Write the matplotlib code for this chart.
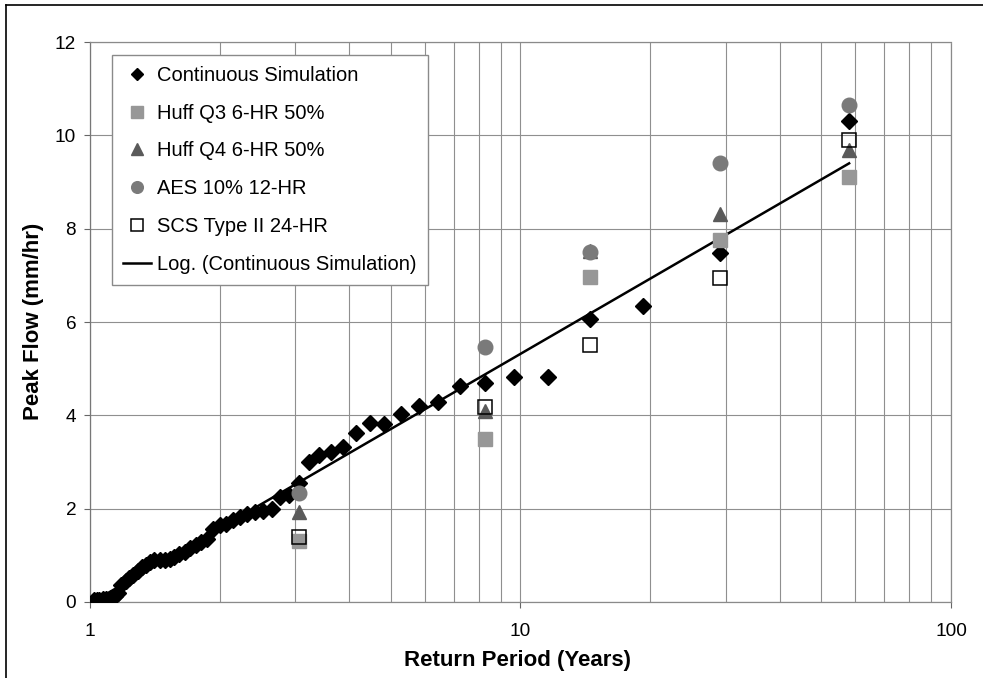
import numpy as np
import matplotlib
matplotlib.use("Agg")
import matplotlib.pyplot as plt
from matplotlib.lines import Line2D

plt.rcParams['font.family'] = ['Liberation Sans', 'DejaVu Sans']

# Continuous simulation: return period (years) vs peak flow (mm/hr)
cs_period = [1.02, 1.04, 1.05, 1.07, 1.09, 1.12, 1.14, 1.16, 1.18, 1.21,
             1.23, 1.26, 1.29, 1.32, 1.35, 1.38, 1.41, 1.45, 1.49, 1.53,
             1.57, 1.61, 1.66, 1.71, 1.76, 1.81, 1.87, 1.93, 2.0, 2.07,
             2.15, 2.23, 2.32, 2.42, 2.52, 2.64, 2.76, 2.9, 3.05, 3.22,
             3.41, 3.63, 3.87, 4.14, 4.46, 4.83, 5.27, 5.8, 6.44, 7.25,
             8.29, 9.67, 11.6, 14.5, 19.3, 29.0, 58.0]
cs_flow = [0.05, 0.05, 0.05, 0.06, 0.06, 0.08, 0.12, 0.2, 0.36, 0.45,
           0.52, 0.58, 0.66, 0.74, 0.8, 0.86, 0.89, 0.9, 0.9, 0.92,
           0.96, 1.02, 1.08, 1.15, 1.22, 1.28, 1.34, 1.56, 1.64, 1.67,
           1.76, 1.83, 1.88, 1.92, 1.94, 1.99, 2.24, 2.29, 2.55, 3.0,
           3.14, 3.21, 3.32, 3.62, 3.83, 3.82, 4.02, 4.2, 4.28, 4.62,
           4.7, 4.82, 4.82, 6.06, 6.34, 7.47, 10.31]

# Design storms, plotted at the matching return periods
design_period = [3.05, 8.29, 14.5, 29.0, 58.0]
huff_q3 = [1.3, 3.49, 6.96, 7.75, 9.1]
huff_q4 = [1.93, 4.1, 7.52, 8.31, 9.68]
aes_12hr = [2.33, 5.47, 7.5, 9.41, 10.66]
scs_24hr = [1.4, 4.18, 5.5, 6.94, 9.89]

x_ticks = [1, 10, 100]
y_ticks = [0, 2, 4, 6, 8, 10, 12]

fig = plt.figure(figsize=(9.83, 6.78), dpi=100)
ax = fig.add_axes([0.0916, 0.1121, 0.8758, 0.8259])

# logarithmic trendline y = a*ln(x) + b, fitted the same way Excel does
cs_x = np.array(cs_period)
a, b = np.polyfit(np.log(cs_x), np.array(cs_flow), 1)
fit_x = np.geomspace(cs_x.min(), cs_x.max(), 200)
ax.plot(fit_x, a * np.log(fit_x) + b, color="black", linewidth=1.8, zorder=3,
        label="Log. (Continuous Simulation)")

ax.plot(cs_period, cs_flow, linestyle="none", marker="D", markersize=8.2,
        color="black", zorder=4, label="Continuous Simulation")
ax.plot(design_period, huff_q3, linestyle="none", marker="s", markersize=10,
        color="#979797", zorder=5, label="Huff Q3 6-HR 50%")
ax.plot(design_period, huff_q4, linestyle="none", marker="^", markersize=10.5,
        color="#5a5a5a", zorder=6, label="Huff Q4 6-HR 50%")
ax.plot(design_period, aes_12hr, linestyle="none", marker="o", markersize=10.5,
        color="#7a7a7a", zorder=7, label="AES 10% 12-HR")
ax.plot(design_period, scs_24hr, linestyle="none", marker="s", markersize=10.5,
        markerfacecolor="none", markeredgecolor="black", markeredgewidth=1.1,
        zorder=8, label="SCS Type II 24-HR")

ax.set_xscale("log")
ax.set_xlim(1, 100)
ax.set_ylim(0, 12)
ax.set_xticks(x_ticks)
ax.set_xticklabels([str(t) for t in x_ticks])
ax.set_yticks(y_ticks)
ax.xaxis.set_minor_formatter(matplotlib.ticker.NullFormatter())

# grid on every 2 mm/hr and every log cycle step
ax.grid(which="major", color="#8f8f8f", linewidth=0.8)
ax.grid(which="minor", axis="x", color="#8f8f8f", linewidth=0.8)
ax.set_axisbelow(True)

ax.tick_params(which="major", direction="out", length=4, width=0.8,
               color="#666666", labelsize=13.7)
ax.tick_params(axis="y", pad=6)
ax.tick_params(axis="x", pad=11)
ax.tick_params(which="minor", length=0)

# plot area border: dotted, with a solid value axis on the left
for side in ["top", "right", "bottom"]:
    ax.spines[side].set_linestyle((0, (1, 1)))
    ax.spines[side].set_color("#8a8a8a")
    ax.spines[side].set_linewidth(0.9)
ax.spines["left"].set_color("#777777")
ax.spines["left"].set_linewidth(0.9)

ax.set_xlabel("Return Period (Years)", fontsize=16, fontweight="bold", va="center")
ax.xaxis.set_label_coords(0.4965, -0.1036)
ax.set_ylabel("Peak Flow (mm/hr)", fontsize=16, fontweight="bold", va="center")
ax.yaxis.set_label_coords(-0.0654, 0.502)

handles, labels = ax.get_legend_handles_labels()
order = [1, 2, 3, 4, 5, 0]
leg = ax.legend([handles[i] for i in order], [labels[i] for i in order],
                loc="upper left", bbox_to_anchor=(0.0256, 0.977), borderaxespad=0,
                fontsize=14.5, frameon=True, fancybox=False, framealpha=1,
                edgecolor="#8a8a8a", markerscale=0.8, handlelength=1.4,
                handletextpad=0.3, labelspacing=0.93, borderpad=0.55)
leg.get_frame().set_linewidth(1.0)
leg.set_zorder(10)

# chart area border along the left and top edges
fig.add_artist(Line2D([6 / 983, 6 / 983], [0, 1 - 5 / 678], color="black",
                      linewidth=1.2, transform=fig.transFigure))
fig.add_artist(Line2D([6 / 983, 1], [1 - 5 / 678, 1 - 5 / 678], color="black",
                      linewidth=1.2, transform=fig.transFigure))

fig.savefig("out.png", dpi=100)
